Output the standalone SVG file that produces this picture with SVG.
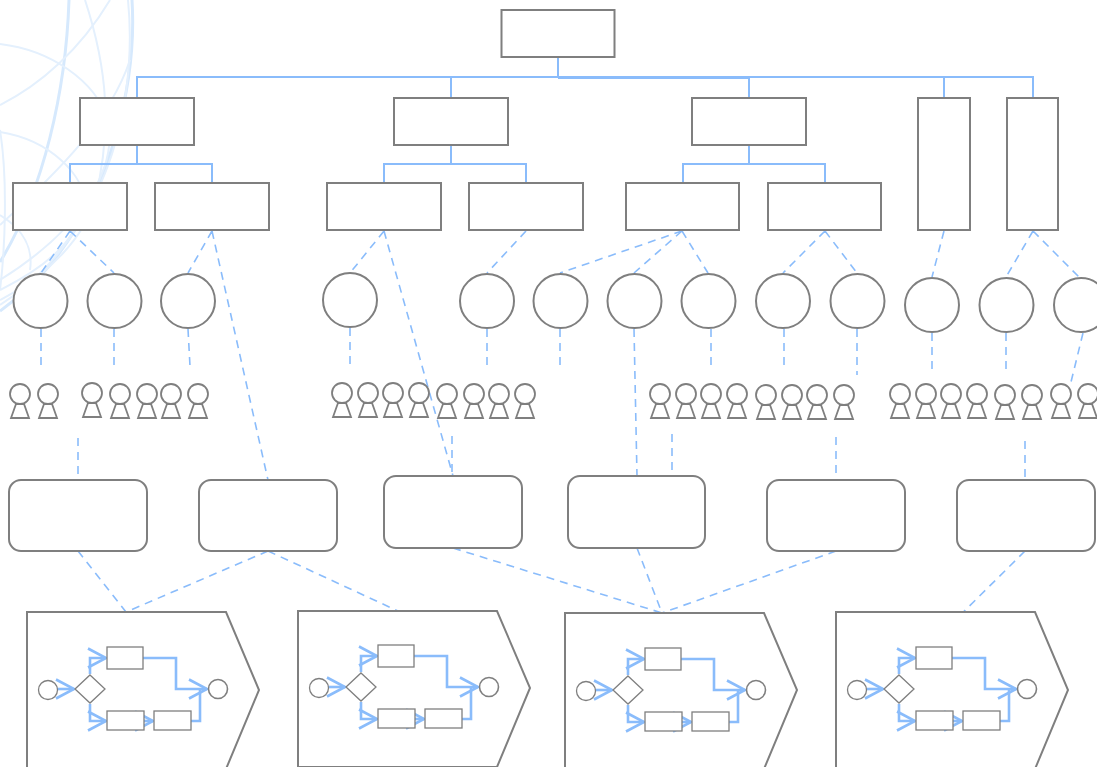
<svg xmlns="http://www.w3.org/2000/svg" xmlns:xlink="http://www.w3.org/1999/xlink" width="1097" height="767" viewBox="0 0 1097 767">
<style>
.n{fill:#fff;stroke:#7f7f7f;stroke-width:2}
.t{fill:#fff;stroke:#7f7f7f;stroke-width:1.3}
.s{fill:none;stroke:#8abcfb;stroke-width:2}
.d{fill:none;stroke:#8abcfb;stroke-width:1.6;stroke-dasharray:8 6}
.f{fill:none;stroke:#8abcfb;stroke-width:2.6}
.b1{fill:none;stroke:#d6e9fd;stroke-width:3}
.b2{fill:none;stroke:#e4f0fd;stroke-width:2}
</style>
<defs>
<marker id="oa" markerUnits="userSpaceOnUse" markerWidth="24" markerHeight="26" refX="20" refY="12" orient="auto"><path d="M2 2.5L20 12L2 21.500" fill="none" stroke="#8abcfb" stroke-width="2.600"/></marker>
<g id="person"><path class="n" d="M-4 10L-9 24H9L4 10Z" style="stroke-width:1.800"/><circle class="n" r="10" style="stroke-width:1.800"/></g>
<g id="proc">
<path class="f" d="M57 689H74" marker-end="url(#oa)"/>
<path class="f" d="M90 674V658H106" marker-end="url(#oa)"/>
<path class="f" d="M90 704V721H106" marker-end="url(#oa)"/>
<path class="f" d="M143 658H176V689H207" marker-end="url(#oa)"/>
<path class="f" d="M135 721H153" marker-end="url(#oa)"/>
<path class="f" d="M191 721H200V689" />
<circle class="t" cx="48" cy="690" r="9.500"/>
<path class="t" d="M90 675L105 689L90 703L75 689Z"/>
<rect class="t" x="107" y="647" width="36" height="22"/>
<rect class="t" x="107" y="711" width="37" height="19"/>
<rect class="t" x="154" y="711" width="37" height="19"/>
<circle class="n" cx="218" cy="689" r="9.500" style="stroke-width:1.600"/>
</g>
</defs>
<g id="background">
<path class="b1" d="M132 0C137 80 112 190 50 265C35 283 18 298 0 311"/>
<path class="b1" d="M69 0C66 90 44 190 0 262"/>
<path class="b2" d="M128 0C134 60 125 130 100 185C75 240 40 280 0 305"/>
<path class="b2" d="M85 0C108 70 112 130 95 200C85 235 50 275 0 300"/>
<path class="b2" d="M0 44C50 50 95 80 108 120C118 170 80 230 0 280"/>
<path class="b2" d="M0 132C50 140 85 175 85 205C75 245 40 270 0 290"/>
<path class="b2" d="M110 0C80 50 40 85 0 105"/>
<path class="b2" d="M0 215C25 230 33 250 30 270"/>
<path class="b2" d="M130 60C110 120 60 170 0 225"/>
<path class="b2" d="M0 130C8 180 5 250 0 290"/>
</g>
<g id="connectors">
<path class="s" d="M558 57V77M137 98V77H1033V98M451 77V98M749 77V98M944 77V98"/>
<path class="s" d="M558 78H749"/>
<path class="s" d="M137 145V164M70 183V164H212V183"/>
<path class="s" d="M451 145V164M384 183V164H526V183"/>
<path class="s" d="M749 145V164M683 183V164H825V183"/>
<path class="d" d="M70 231L41 273M70 231L114 273M212 231L188 273M212 231L268 480"/>
<path class="d" d="M384 231L350 273M384 231L453 476M526 231L487 273"/>
<path class="d" d="M682 231L560 273M682 231L634 273M682 231L708 273M825 231L783 273M825 231L857 273"/>
<path class="d" d="M944 231L932 277M1033 231L1006 277M1033 231L1081 279"/>
<path class="d" d="M41 329V366M114 329V366M188 329L190 366M350 328V366M487 329V366M560 329V366M634 329L637 476M711 329V366M784 329V366M857 329V375M932 333V370M1006 333V370M1083 333L1071 382"/>
<path class="d" d="M78 438V480M452 436V476M672 434V476M836 437V480M1025 441V480"/>
<path class="d" d="M78 551L126 612M268 551L126 612M268 551L398 611M453 548L662 613M637 548L662 613M836 551L662 613M1025 551L918 657"/>
</g>
<g id="root"><rect class="n" x="501.500" y="10" width="113" height="47"/></g>
<g id="l1-1"><rect class="n" x="80" y="98" width="114" height="47"/></g>
<g id="l1-2"><rect class="n" x="394" y="98" width="114" height="47"/></g>
<g id="l1-3"><rect class="n" x="692" y="98" width="114" height="47"/></g>
<g id="l1-4"><rect class="n" x="918" y="98" width="52" height="132"/></g>
<g id="l1-5"><rect class="n" x="1007" y="98" width="51" height="132"/></g>
<g id="l2-1"><rect class="n" x="13" y="183" width="114" height="47"/></g>
<g id="l2-2"><rect class="n" x="155" y="183" width="114" height="47"/></g>
<g id="l2-3"><rect class="n" x="327" y="183" width="114" height="47"/></g>
<g id="l2-4"><rect class="n" x="469" y="183" width="114" height="47"/></g>
<g id="l2-5"><rect class="n" x="626" y="183" width="113" height="47"/></g>
<g id="l2-6"><rect class="n" x="768" y="183" width="113" height="47"/></g>
<g id="circles">
<circle class="n" cx="40.500" cy="301" r="27"/><circle class="n" cx="114.500" cy="301" r="27"/><circle class="n" cx="188" cy="301" r="27"/>
<circle class="n" cx="350" cy="300" r="27"/><circle class="n" cx="487" cy="301" r="27"/><circle class="n" cx="560.500" cy="301" r="27"/>
<circle class="n" cx="634.500" cy="301" r="27"/><circle class="n" cx="708.500" cy="301" r="27"/><circle class="n" cx="783" cy="301" r="27"/>
<circle class="n" cx="857.500" cy="301" r="27"/><circle class="n" cx="932" cy="305" r="27"/><circle class="n" cx="1006.500" cy="305" r="27"/><circle class="n" cx="1081" cy="305" r="27"/>
</g>
<g id="people">
<use href="#person" x="20" y="394"/><use href="#person" x="48" y="394"/><use href="#person" x="92" y="393"/><use href="#person" x="120" y="394"/><use href="#person" x="147" y="394"/><use href="#person" x="171" y="394"/><use href="#person" x="198" y="394"/>
<use href="#person" x="342" y="393"/><use href="#person" x="368" y="393"/><use href="#person" x="393" y="393"/><use href="#person" x="419" y="393"/><use href="#person" x="447" y="394"/><use href="#person" x="474" y="394"/><use href="#person" x="499" y="394"/><use href="#person" x="525" y="394"/>
<use href="#person" x="660" y="394"/><use href="#person" x="686" y="394"/><use href="#person" x="711" y="394"/><use href="#person" x="737" y="394"/><use href="#person" x="766" y="395"/><use href="#person" x="792" y="395"/><use href="#person" x="817" y="395"/><use href="#person" x="844" y="395"/>
<use href="#person" x="900" y="394"/><use href="#person" x="926" y="394"/><use href="#person" x="951" y="394"/><use href="#person" x="977" y="394"/><use href="#person" x="1005" y="395"/><use href="#person" x="1032" y="395"/><use href="#person" x="1061" y="394"/><use href="#person" x="1088" y="394"/>
</g>
<g id="r1"><rect class="n" x="9" y="480" width="138" height="71" rx="12"/></g>
<g id="r2"><rect class="n" x="199" y="480" width="138" height="71" rx="12"/></g>
<g id="r3"><rect class="n" x="384" y="476" width="138" height="72" rx="12"/></g>
<g id="r4"><rect class="n" x="568" y="476" width="137" height="72" rx="12"/></g>
<g id="r5"><rect class="n" x="767" y="480" width="138" height="71" rx="12"/></g>
<g id="r6"><rect class="n" x="957" y="480" width="138" height="71" rx="12"/></g>
<g id="c1"><path class="n" d="M27 612H226L259 690L226 769H27Z"/><use href="#proc"/></g>
<g id="c2"><path class="n" d="M298 611H497L530 688L497 767H298Z"/><use href="#proc" x="271" y="-2"/></g>
<g id="c3"><path class="n" d="M565 613H764L797 690L764 769H565Z"/><use href="#proc" x="538" y="1"/></g>
<g id="c4"><path class="n" d="M836 612H1035L1068 690L1035 769H836Z"/><use href="#proc" x="809"/></g>
</svg>
